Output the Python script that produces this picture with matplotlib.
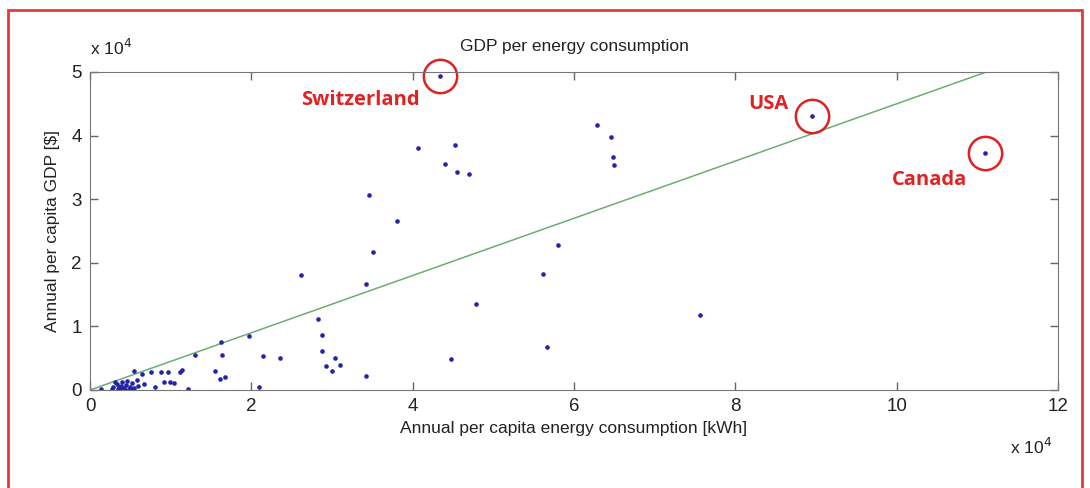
import numpy as np
import matplotlib.pyplot as plt
from matplotlib.patches import Rectangle

plt.rcParams['font.family'] = ['Liberation Sans', 'DejaVu Sans']

# per capita energy use [kWh] and GDP [$]
energy = np.array([
    62900, 64600, 64800, 65000, 40600, 45300, 44000, 45500, 47000, 34600,
    38000, 35100, 26100, 34200, 58000, 56200, 47900, 56600, 44800, 28300,
    28700, 28800, 30400, 31000, 29200, 30000, 34200, 21400, 23500, 20900,
    19700, 43400, 89500, 111000, 75600,
    16300, 16400, 13000, 15500, 16100, 16700, 11400, 11200, 9700, 8800,
    7600, 5500, 6400, 9200, 9900, 10400, 6700, 5800, 5200, 8100,
    12100, 1400, 2900, 3300, 3500, 3800, 4200, 4500, 4800, 5000,
    4000, 3100, 3600, 4400, 5500, 6000, 2700, 4600, 3800, 5200,
])
gdp = np.array([
    41700, 39800, 36600, 35300, 38000, 38500, 35500, 34300, 34000, 30700,
    26600, 21700, 18100, 16600, 22800, 18200, 13500, 6800, 4800, 11200,
    8700, 6100, 5100, 3900, 3700, 3000, 2200, 5400, 5100, 400,
    8500, 49400, 43100, 37200, 11800,
    7600, 5500, 5500, 3000, 1800, 2100, 3100, 2800, 2800, 2800,
    2800, 3000, 2500, 1300, 1300, 1100, 900, 1600, 1100, 400,
    100, 100, 500, 1000, 100, 600, 300, 800, 200, 500,
    1200, 1300, 400, 0, 300, 700, 200, 1400, 200, 0,
])
fit_slope = 0.45  # $ per kWh, fitted line through origin

highlight_names = ['Switzerland', 'USA', 'Canada']
highlight_energy = [43400, 89500, 111000]
highlight_gdp = [49400, 43100, 37200]
label_energy = [33500, 84100, 104100]
label_gdp = [45600, 45000, 33000]

fig = plt.figure(figsize=(10.9, 4.88), dpi=100)
# red frame, open at the bottom (runs off the picture)
fig.patches.append(Rectangle((8 / 1090, -0.05), 1074 / 1090, 1.05 - 10 / 488,
                             transform=fig.transFigure, fill=False,
                             edgecolor='#e23a3a', linewidth=2))
ax = fig.add_axes([90 / 1090, 1 - 390 / 488, 968 / 1090, 318 / 488])

xs = np.array([0, 120000])
ax.plot(xs, fit_slope * xs, color='#70ab70', lw=1.1, zorder=1)
ax.scatter(energy, gdp, s=11, color='#2424a8', marker='o', linewidths=0, zorder=2)

for name, ex, gy, lx, ly in zip(highlight_names, highlight_energy, highlight_gdp,
                                label_energy, label_gdp):
    ax.plot(ex, gy, 'o', ms=24, mfc='none', mec='#dd2222', mew=1.8, clip_on=False)
    ax.text(lx, ly, name, color='#e02222', fontsize=14.5, fontweight='bold',
            family=['Open Sans', 'DejaVu Sans'], ha='center', va='center')

ax.set_xlim(0, 120000)
ax.set_ylim(0, 50000)
ax.set_xticks(np.arange(0, 120001, 20000))
ax.set_xticklabels([str(v) for v in range(0, 13, 2)])
ax.set_yticks(np.arange(0, 50001, 10000))
ax.set_yticklabels([str(v) for v in range(0, 6)])
ax.tick_params(direction='in', top=True, right=True, length=6, width=1,
               colors='#666666', labelcolor='#222222', labelsize=13.5, pad=6)
for sp in ax.spines.values():
    sp.set_color('#777777')

ax.set_title('GDP per energy consumption', fontsize=12.5, color='#222222', pad=15)
ax.set_xlabel('Annual per capita energy consumption [kWh]', fontsize=12.5,
              color='#222222', labelpad=4)
ax.set_ylabel('Annual per capita GDP [$]', fontsize=12.5, color='#222222', labelpad=8)
ax.text(0, 1.055, r'x 10$^4$', transform=ax.transAxes, fontsize=12.5, color='#222222')
ax.text(0.95, -0.2, r'x 10$^4$', transform=ax.transAxes, fontsize=12.5, color='#222222')

fig.savefig('out.png', dpi=100, facecolor='white')
